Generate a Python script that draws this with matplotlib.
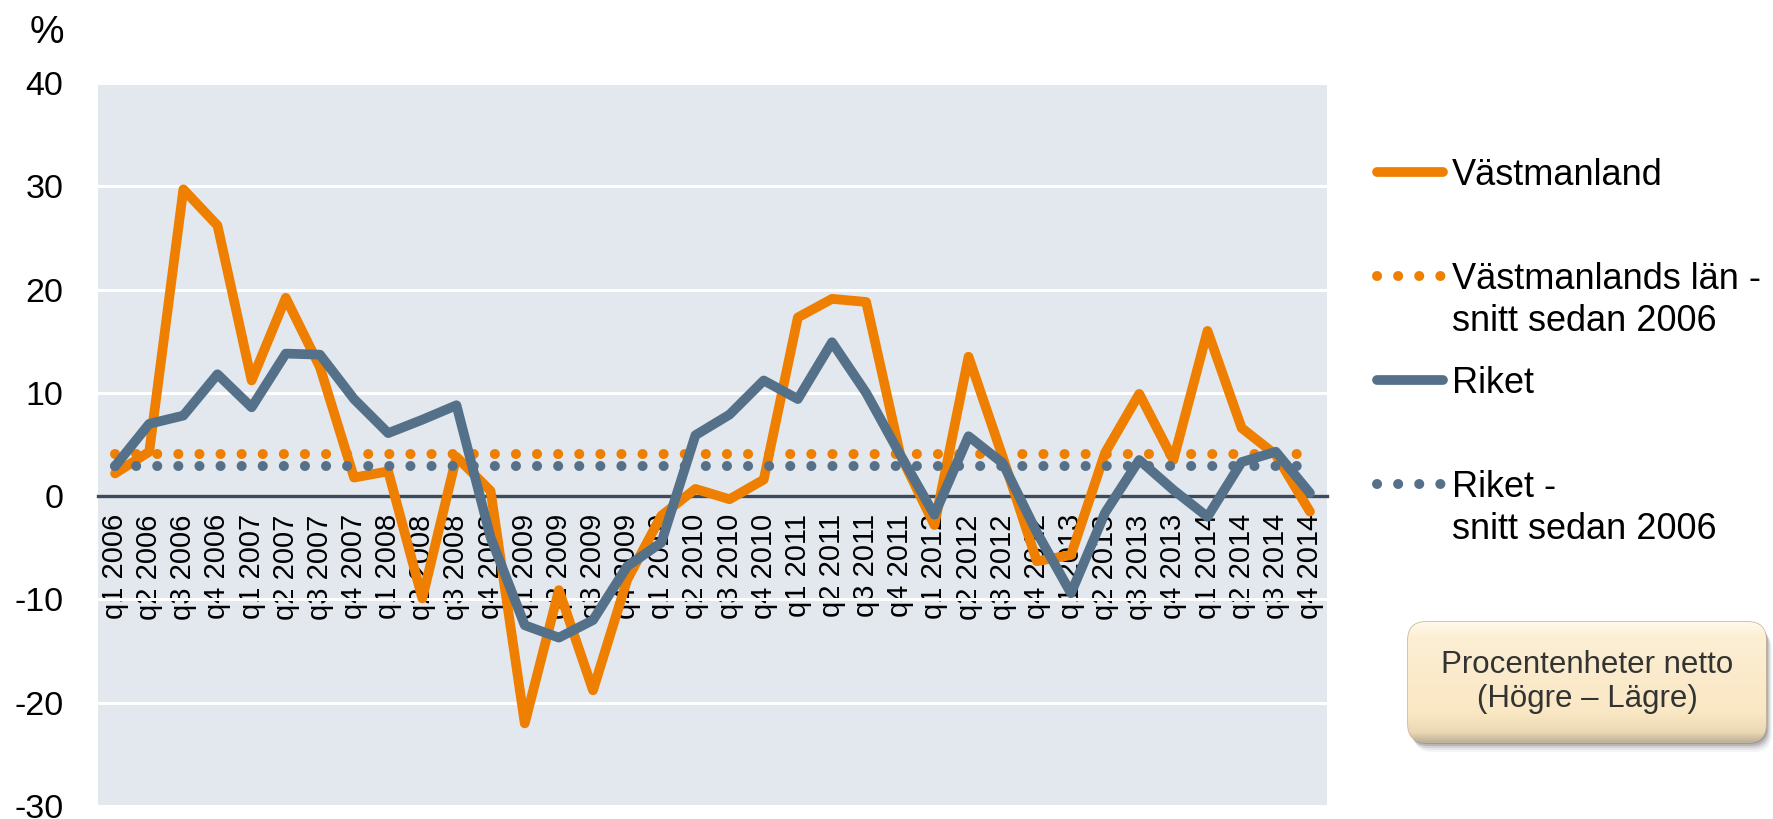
import numpy as np
import matplotlib
matplotlib.use("Agg")
import matplotlib.pyplot as plt
from matplotlib.lines import Line2D
from matplotlib.patches import FancyBboxPatch
from matplotlib.colors import LinearSegmentedColormap

plt.rcParams['font.family'] = ['Liberation Sans', 'DejaVu Sans']
plt.rcParams['axes.unicode_minus'] = False

# ---------------- data ----------------
quarters = ["q1", "q2", "q3", "q4"]
years = ["2006", "2007", "2008", "2009", "2010", "2011", "2012", "2013", "2014"]
categories = [f"{q} {y}" for y in years for q in quarters]

vastmanland = [2.2, 4.3, 29.7, 26.2, 11.2, 19.2, 12.5, 1.8, 2.4, -9.9, 3.8, 0.5,
               -22.0, -9.1, -18.8, -8.1, -1.9, 0.7, -0.3, 1.6, 17.3, 19.1, 18.8, 4.0,
               -2.8, 13.5, 3.8, -6.3, -5.7, 4.2, 9.9, 3.5, 16.0, 6.6, 4.0, -1.5]
riket = [2.9, 7.0, 7.8, 11.8, 8.6, 13.8, 13.7, 9.4, 6.1, 7.4, 8.8, -4.0,
         -12.5, -13.7, -12.0, -6.8, -4.5, 5.9, 7.9, 11.2, 9.4, 14.9, 10.0, 4.0,
         -1.8, 5.8, 3.2, -3.5, -9.4, -1.6, 3.5, 0.6, -2.0, 3.3, 4.3, 0.3]
vastmanland_avg = 4.05
riket_avg = 2.9

yticks = [-30, -20, -10, 0, 10, 20, 30, 40]
ytick_labels = ["-30", "-20", "-10", "0", "10", "20", "30", "40"]

legend_labels = ["Västmanland", "Västmanlands län -\nsnitt sedan 2006",
                 "Riket", "Riket -\nsnitt sedan 2006"]
box_text = "Procentenheter netto\n(Högre – Lägre)"

# ---------------- style ----------------
ORANGE = "#EF7F00"
BLUE = "#557189"
BG = "#E3E8EF"
ZERO = "#3E4A57"
W, H = 1774, 819
LW = 7.0
DOT = dict(linestyle=(0, (0.01, 2.1)), dash_capstyle='round', lw=7.2)

fig = plt.figure(figsize=(W / 100, H / 100), dpi=100)
ax = fig.add_axes([98 / W, 1 - 806 / H, (1327 - 98) / W, (806 - 83) / H])
ax.set_facecolor(BG)

# spine first (set_position resets tick properties)
for s in ['top', 'right', 'left']:
    ax.spines[s].set_visible(False)
ax.spines['bottom'].set_position(('data', 0))
ax.spines['bottom'].set_color(ZERO)
ax.spines['bottom'].set_linewidth(2.4)
ax.spines['bottom'].set_zorder(2.5)

x = np.arange(len(categories))
ax.plot(x, vastmanland, color=ORANGE, lw=LW, solid_joinstyle='round',
        solid_capstyle='round', zorder=3)
ax.plot(x, [vastmanland_avg] * len(x), color=ORANGE, zorder=4, **DOT)
ax.plot(x, riket, color=BLUE, lw=LW, solid_joinstyle='round',
        solid_capstyle='round', zorder=5)
ax.plot(x, [riket_avg] * len(x), color=BLUE, zorder=6, **DOT)

ax.set_xlim(-0.5, len(x) - 0.5)
ax.set_ylim(-30, 40)
ax.set_yticks(yticks)
ax.set_yticklabels(ytick_labels, fontsize=24.5)
ax.set_xticks(x)
ax.set_xticklabels(categories, rotation=90, fontsize=21)
ax.tick_params(axis='y', length=0, pad=25, labelcolor='black')
ax.tick_params(axis='x', length=0, pad=13, labelcolor='black')

ax.yaxis.grid(True, color='white', lw=2.2)
ax.set_axisbelow(True)

# ---------------- overlay in pixel coordinates ----------------
ov = fig.add_axes([0, 0, 1, 1], facecolor='none')
ov.set_xlim(0, W)
ov.set_ylim(H, 0)
ov.axis('off')

ov.text(47, 33, "%", fontsize=28, ha='center', va='center')

# legend (manual)
FS = 26
cap = 0.716 * FS * 100 / 72 / 2
entries = [
    (172, ORANGE, 'solid', [legend_labels[0]]),
    (276, ORANGE, 'dot', legend_labels[1].split("\n")),
    (380, BLUE, 'solid', [legend_labels[2]]),
    (484, BLUE, 'dot', legend_labels[3].split("\n")),
]
for yy, col, kind, lines in entries:
    if kind == 'solid':
        ov.add_line(Line2D([1377, 1443], [yy, yy], color=col, lw=LW,
                           solid_capstyle='round'))
    else:
        ov.add_line(Line2D([1377, 1441], [yy, yy], color=col, **DOT))
    for k, t in enumerate(lines):
        ov.text(1452, yy + cap + 42 * k, t, fontsize=FS, ha='left',
                va='baseline', color='black')

# ---------------- annotation box ----------------
bx0, by0, bx1, by1 = 1408, 622, 1766, 742
bax = fig.add_axes([1398 / W, 1 - 760 / H, (1774 - 1398) / W, (760 - 610) / H])
bax.set_xlim(1398, 1774)
bax.set_ylim(760, 610)
bax.axis('off')
for off, a in [(10, 0.05), (8, 0.08), (6, 0.13), (4, 0.2), (2, 0.25)]:
    sh = FancyBboxPatch((bx0 + off * 0.6, by0 + off), bx1 - bx0, by1 - by0,
                        boxstyle="round,pad=0,rounding_size=18",
                        fc='#4a4a4a', ec='none', alpha=a)
    bax.add_patch(sh)
box = FancyBboxPatch((bx0, by0), bx1 - bx0, by1 - by0,
                     boxstyle="round,pad=0,rounding_size=18",
                     fc='#FBE9C6', ec='#C9BA9E', lw=1.2)
bax.add_patch(box)
grad = np.linspace(0, 1, 256).reshape(-1, 1)
cmap = LinearSegmentedColormap.from_list(
    'cream', [(0, '#FFF9EC'), (0.12, '#FCEFD4'), (0.75, '#FAE7C4'),
              (0.92, '#EBD8B4'), (1.0, '#BFB098')])
im = bax.imshow(grad, cmap=cmap, aspect='auto',
                extent=(bx0, bx1, by1, by0), zorder=2)
im.set_clip_path(box)
bax.text((bx0 + bx1) / 2, (by0 + by1) / 2, box_text, fontsize=22.5,
         ha='center', va='center', color='#333333', linespacing=1.15, zorder=3)

fig.savefig("out.png", dpi=100)
